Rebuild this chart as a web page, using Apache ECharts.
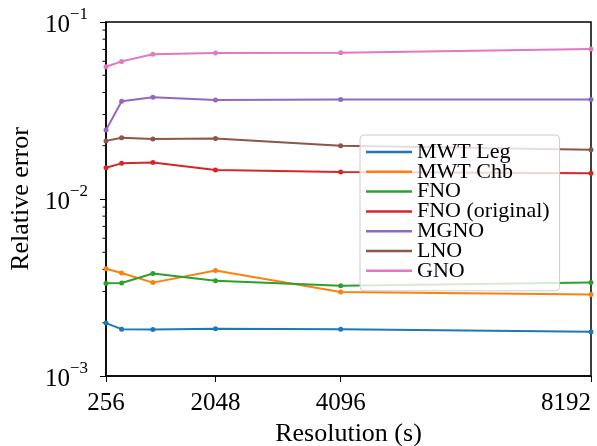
<!DOCTYPE html>
<html>
<head>
<meta charset="utf-8">
<script src="https://cdn.jsdelivr.net/npm/echarts@6/dist/echarts.min.js"></script>
<style>html,body{margin:0;padding:0;background:#fff;}#c{width:597px;height:446px;}</style>
</head>
<body>
<div id="c"></div>
<script>
const xValues = [256, 512, 1024, 2048, 4096, 8192];
const xTicks = [256, 2048, 4096, 8192];
const yMinorTicks = [0.002,0.003,0.004,0.005,0.006,0.007,0.008,0.009,0.02,0.03,0.04,0.05,0.06,0.07,0.08,0.09];
const seriesNames = ['MWT Leg','MWT Chb','FNO','FNO (original)','MGNO','LNO','GNO'];
const colors = ['#1f77b4','#ff7f0e','#2ca02c','#d62728','#9467bd','#8c564b','#e377c2'];
const mwtLeg  = [0.00199, 0.00184, 0.00183, 0.00185, 0.00184, 0.00178];
const mwtChb  = [0.00404, 0.00382, 0.00337, 0.00395, 0.00298, 0.00289];
const fno     = [0.00334, 0.00335, 0.00379, 0.00345, 0.00324, 0.00337];
const fnoOrig = [0.0150, 0.0159, 0.0161, 0.0146, 0.0142, 0.0140];
const mgno    = [0.0245, 0.0357, 0.0376, 0.0362, 0.0365, 0.0365];
const lno     = [0.0213, 0.0222, 0.0218, 0.0220, 0.0200, 0.0190];
const gno     = [0.0559, 0.0599, 0.0657, 0.0668, 0.0671, 0.0704];
const allData = [mwtLeg, mwtChb, fno, fnoOrig, mgno, lno, gno];

const FONT = '"Liberation Serif", "DejaVu Serif", serif';
const chart = echarts.init(document.getElementById('c'), null, {renderer:'canvas'});

const series = seriesNames.map((n, i) => ({
  name: n, type: 'line',
  data: xValues.map((x, j) => [x, allData[i][j]]),
  symbol: 'circle', symbolSize: 5, showSymbol: true,
  lineStyle: {color: colors[i], width: 2},
  itemStyle: {color: colors[i]},
  clip: true, animation: false, z: 2 + i * 0.01
}));
series.push({
  type: 'custom', name: 'minor', silent: true, clip: false, animation: false,
  data: yMinorTicks.map(v => [xTicks[0], v]),
  renderItem: function (params, api) {
    const p = api.coord([api.value(0), api.value(1)]);
    return {type: 'line', shape: {x1: p[0] - 3.5, y1: p[1], x2: p[0], y2: p[1]}, style: {stroke: '#000', lineWidth: 1}};
  }
});

chart.setOption({
  animation: false,
  textStyle: {fontFamily: FONT},
  grid: {left: 106, right: 6, top: 22, bottom: 70, show: true, borderColor: '#000', borderWidth: 1.5, backgroundColor: 'transparent', containLabel: false, outerBoundsMode: 'none'},
  legend: {
    data: seriesNames, orient: 'vertical', left: 360, top: 135,
    icon: 'rect', itemWidth: 46, itemHeight: 2.5, itemGap: -2.2,
    padding: [6, 10, 9, 6],
    backgroundColor: 'rgba(255,255,255,0.8)', borderColor: '#cccccc', borderWidth: 1, borderRadius: 4,
    textStyle: {fontFamily: FONT, fontSize: 22, color: '#000'}
  },
  xAxis: {
    type: 'value', min: 256, max: 8192,
    name: 'Resolution (s)', nameLocation: 'middle', nameGap: 37,
    nameTextStyle: {fontFamily: FONT, fontSize: 26, color: '#000'},
    axisLine: {show: true, lineStyle: {color: '#000', width: 1.5}},
    axisTick: {show: true, length: 6, lineStyle: {color: '#000', width: 1}, customValues: xTicks},
    axisLabel: {show: true, fontFamily: FONT, fontSize: 25, color: '#000', margin: 15, customValues: xTicks,
      formatter: v => String(v), alignMaxLabel: 'right'},
    splitLine: {show: false}
  },
  yAxis: {
    type: 'log', logBase: 10, min: 0.001, max: 0.1, interval: 1,
    name: 'Relative error', nameLocation: 'middle', nameGap: 70,
    nameTextStyle: {fontFamily: FONT, fontSize: 26, color: '#000'},
    axisLine: {show: true, lineStyle: {color: '#000', width: 1.5}},
    axisTick: {show: true, length: 6, lineStyle: {color: '#000', width: 1}},
    axisLabel: {
      show: true, margin: 18, color: '#000',
      formatter: function (v) { const e = Math.round(Math.log10(v)); return '{b|10}{s|\u2212' + Math.abs(e) + '}'; },
      rich: {
        b: {fontFamily: FONT, fontSize: 25, color: '#000', lineHeight: 32, verticalAlign: 'bottom'},
        s: {fontFamily: FONT, fontSize: 17, color: '#000', lineHeight: 17, verticalAlign: 'top'}
      }
    },
    splitLine: {show: false}, minorTick: {show: false}
  },
  series: series
});
</script>
</body>
</html>
